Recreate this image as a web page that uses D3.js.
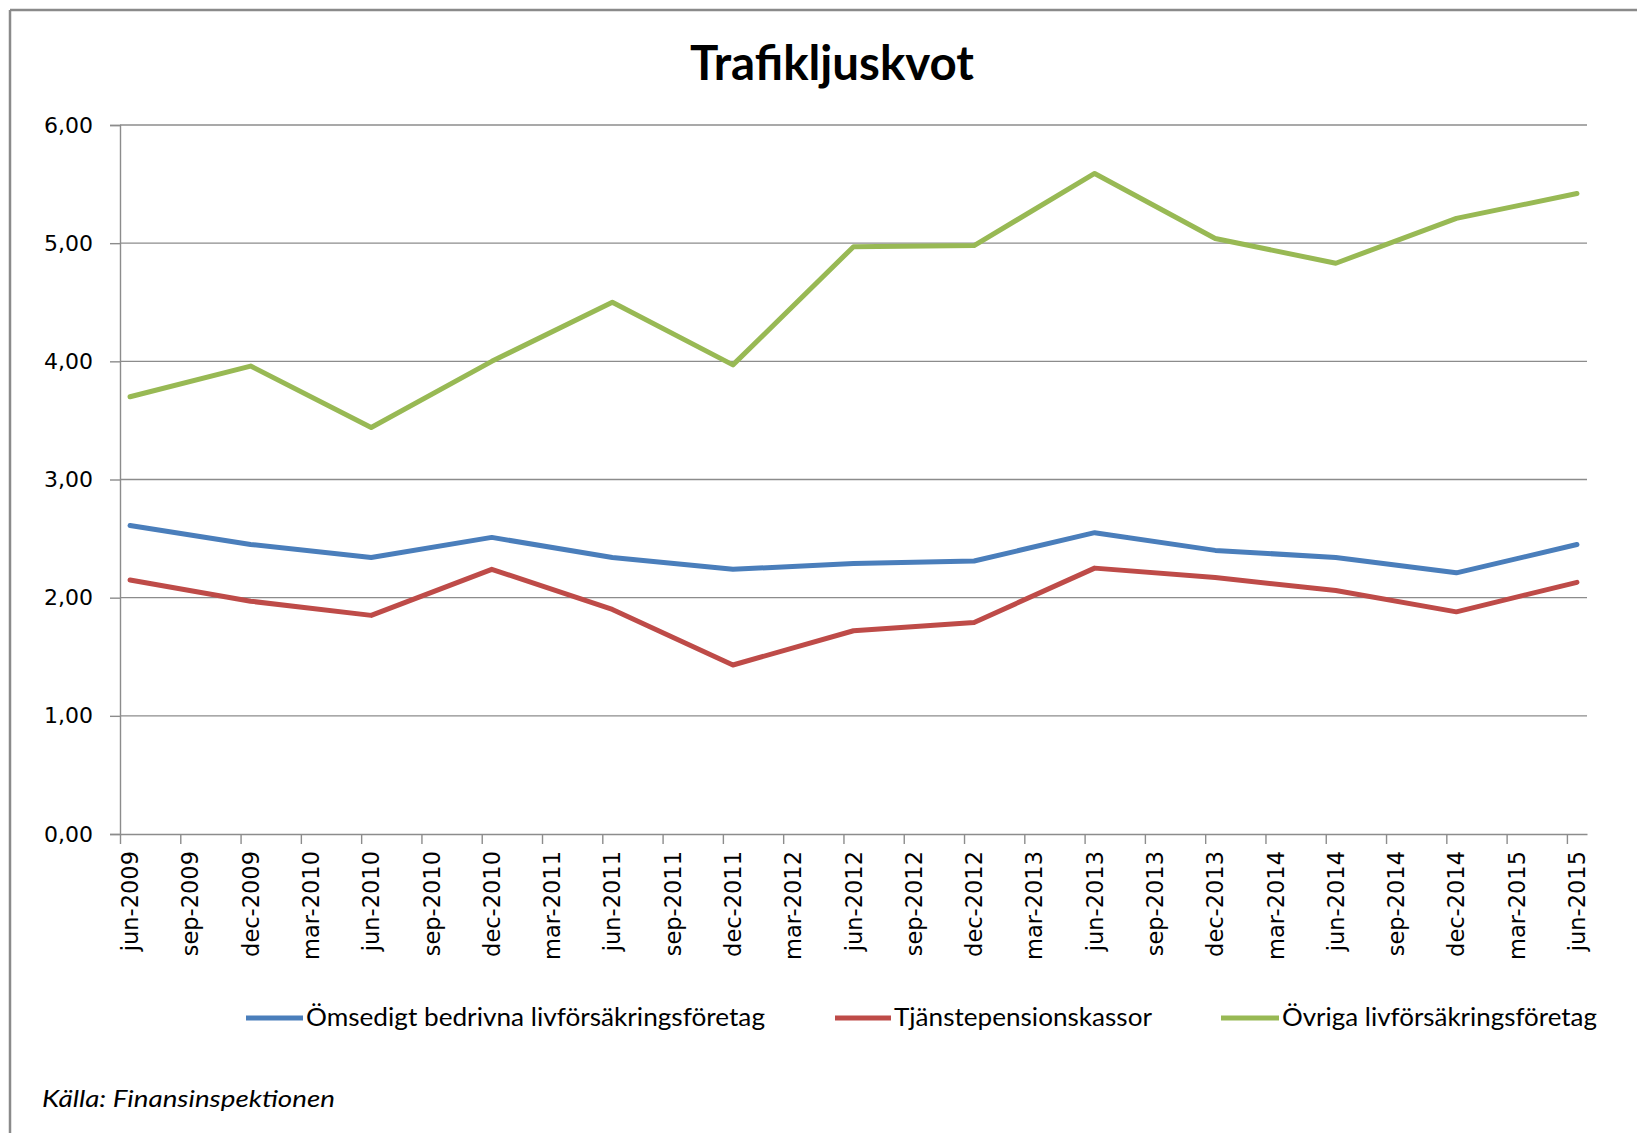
<!DOCTYPE html>
<html><head><meta charset="utf-8">
<script src="https://cdn.jsdelivr.net/npm/d3@7"></script>
<style>html,body{margin:0;padding:0;background:#fff;}svg{display:block;}</style>
</head><body>
<svg id="chart" width="1637" height="1133"></svg>
<script>
const title = "Trafikljuskvot";
const tickLabels = ["jun-2009","sep-2009","dec-2009","mar-2010","jun-2010","sep-2010","dec-2010","mar-2011","jun-2011","sep-2011","dec-2011","mar-2012","jun-2012","sep-2012","dec-2012","mar-2013","jun-2013","sep-2013","dec-2013","mar-2014","jun-2014","sep-2014","dec-2014","mar-2015","jun-2015"];
const dataDates = ["jun-2009","dec-2009","jun-2010","dec-2010","jun-2011","dec-2011","jun-2012","dec-2012","jun-2013","dec-2013","jun-2014","dec-2014","jun-2015"];
const seriesNames = ["Ömsedigt bedrivna livförsäkringsföretag","Tjänstepensionskassor","Övriga livförsäkringsföretag"];
const omsedigt = [2.61,2.45,2.34,2.51,2.34,2.24,2.29,2.31,2.55,2.40,2.34,2.21,2.45];
const tjanste  = [2.15,1.97,1.85,2.24,1.90,1.43,1.72,1.79,2.25,2.17,2.06,1.88,2.13];
const ovriga   = [3.70,3.96,3.44,4.00,4.50,3.97,4.97,4.98,5.59,5.04,4.83,5.21,5.42];
const yTicks = [0,1,2,3,4,5,6];
const colors = ["#4a7ebb","#be4b48","#98b954"];
const source = "Källa: Finansinspektionen";

const monthNames = {jan:0,feb:1,mar:2,apr:3,maj:4,jun:5,jul:6,aug:7,sep:8,okt:9,nov:10,dec:11};
function monthIdx(lbl){const [m,y]=lbl.split("-");return (+y-2009)*12+monthNames[m]-5;}

const svg = d3.select("#chart");
const x = d3.scaleLinear().domain([0,73]).range([120,1587]);
const y = d3.scaleLinear().domain([0,6]).range([834,125]);

// frame
svg.append("line").attr("x1",10).attr("x2",1637).attr("y1",10).attr("y2",10).attr("stroke","#8a8a8a").attr("stroke-width",2.5);
svg.append("line").attr("x1",10).attr("x2",10).attr("y1",10).attr("y2",1133).attr("stroke","#8a8a8a").attr("stroke-width",2.5);

// title
svg.append("text").attr("x",832).attr("y",80).attr("text-anchor","middle")
  .attr("font-family","Lato, 'Open Sans', sans-serif").attr("font-weight","bold").attr("font-size",47)
  .attr("textLength",284).attr("lengthAdjust","spacingAndGlyphs").attr("fill","#000").text(title);

// gridlines
svg.append("g").selectAll("line").data(yTicks.filter(d=>d>0)).join("line")
  .attr("x1",x(0)).attr("x2",x(73)).attr("y1",d=>y(d)).attr("y2",d=>y(d))
  .attr("stroke","#8c8c8c").attr("stroke-width",1.4);

// y axis
const yAxis = svg.append("g").attr("transform",`translate(${x(0)},0)`)
  .call(d3.axisLeft(y).tickValues(yTicks).tickSize(10).tickPadding(17).tickFormat(d=>d3.format(".2f")(d).replace(".",",")));
yAxis.select(".domain").attr("stroke","#8c8c8c").attr("stroke-width",1.4);
yAxis.selectAll(".tick line").attr("stroke","#8c8c8c").attr("stroke-width",1.4);
yAxis.selectAll("text").attr("font-family","'DejaVu Sans', Verdana, sans-serif").attr("font-size",22).attr("fill","#000");

// x axis
const tickPos = tickLabels.map(monthIdx);
const xAxis = svg.append("g").attr("transform",`translate(0,${y(0)})`)
  .call(d3.axisBottom(x).tickValues(tickPos).tickSize(10).tickSizeOuter(0).tickFormat(()=>""));
xAxis.select(".domain").attr("stroke","#8c8c8c").attr("stroke-width",1.4);
xAxis.selectAll(".tick line").attr("stroke","#8c8c8c").attr("stroke-width",1.4);
svg.append("g").selectAll("text").data(tickLabels).join("text")
  .attr("transform",d=>`translate(${x(monthIdx(d)+0.5)},851) rotate(-90)`)
  .attr("text-anchor","end").attr("dy","0.36em")
  .attr("font-family","'DejaVu Sans', Verdana, sans-serif").attr("font-size",22.5).attr("fill","#000")
  .text(d=>d);

// lines
const allSeries = [omsedigt,tjanste,ovriga];
const line = d3.line().x((d,i)=>x(monthIdx(dataDates[i])+0.5)).y(d=>y(d));
svg.append("g").selectAll("path").data(allSeries).join("path")
  .attr("d",d=>line(d)).attr("fill","none").attr("stroke",(d,i)=>colors[i])
  .attr("stroke-width",5).attr("stroke-linejoin","round").attr("stroke-linecap","round");

// legend
const legendItems = [
  {x1:246,x2:303,tx:306,tw:459},
  {x1:835,x2:891,tx:894,tw:258},
  {x1:1221,x2:1279,tx:1282,tw:315}
];
const lg = svg.append("g").selectAll("g").data(seriesNames).join("g");
lg.append("line").attr("x1",(d,i)=>legendItems[i].x1).attr("x2",(d,i)=>legendItems[i].x2)
  .attr("y1",1018).attr("y2",1018).attr("stroke",(d,i)=>colors[i]).attr("stroke-width",5);
lg.append("text").attr("x",(d,i)=>legendItems[i].tx).attr("y",1026)
  .attr("font-family","Lato, 'Open Sans', sans-serif").attr("font-size",24.5)
  .attr("textLength",(d,i)=>legendItems[i].tw).attr("lengthAdjust","spacingAndGlyphs")
  .attr("fill","#000").text(d=>d);

// source
svg.append("text").attr("x",42).attr("y",1107)
  .attr("font-family","Lato, 'Open Sans', sans-serif").attr("font-style","italic").attr("font-size",23)
  .attr("textLength",293).attr("lengthAdjust","spacingAndGlyphs").attr("fill","#000").text(source);
</script>
</body></html>
